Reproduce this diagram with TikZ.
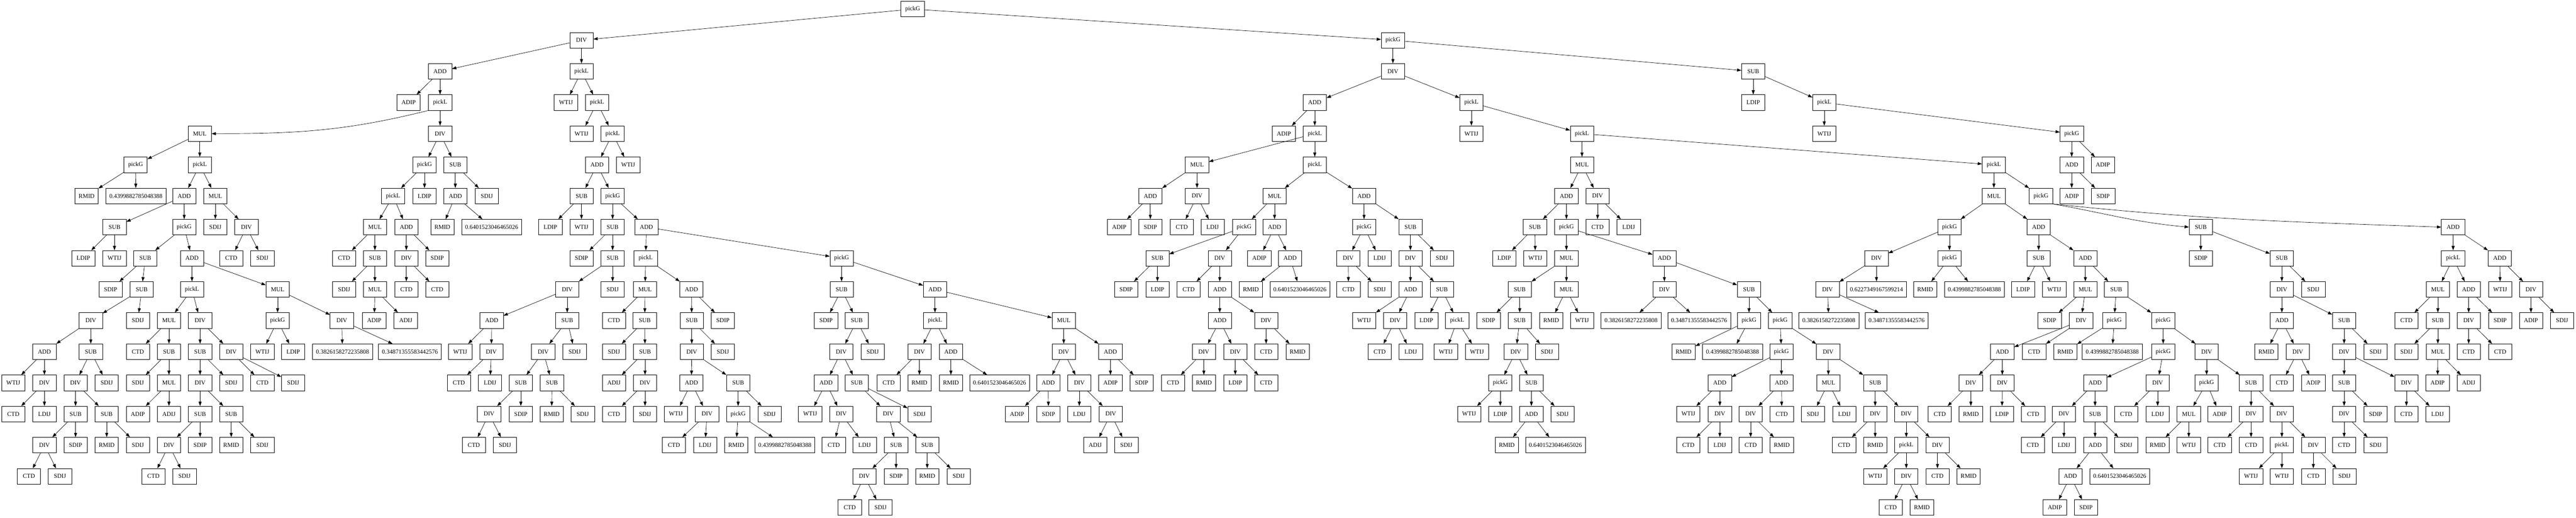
\documentclass[tikz,border=0pt]{standalone}
\usepackage{fontspec}
\setmainfont{Liberation Serif}
\usetikzlibrary{arrows.meta}

\tikzset{
  box/.style={draw, rectangle, minimum width=54pt, minimum height=36pt,
    inner xsep=8pt, inner ysep=3pt, line width=0.8pt,
    font=\fontsize{14}{16}\selectfont},
  link/.style={-{Triangle[length=10pt,width=7pt]}, line width=0.8pt}
}

\begin{document}
\begin{tikzpicture}[x=0.75pt, y={(0pt,-72pt)}]
\fill[white] (0,-0.29167) rectangle (7943,16.323);
\useasboundingbox (0,-0.29167) rectangle (7943,16.323);

% root
\node[box] (t0) at (2814,0) {pickG};

% left branch
\node[box] (a1) at (1793,1) {DIV}; \draw[link] (t0) -- (a1);
\node[box] (a2) at (1357,2) {ADD}; \draw[link] (a1) -- (a2);
\node[box] (a3) at (1260,3) {ADIP}; \draw[link] (a2) -- (a3);
\node[box] (a4) at (1357,3) {pickL}; \draw[link] (a2) -- (a4);
\node[box] (a5) at (616,4) {MUL}; \draw[link] (a4.south west) to[out=194,in=0] (a5.east);
\node[box] (a6) at (418,5) {pickG}; \draw[link] (a5) -- (a6);
\node[box] (a7) at (267,6) {RMID}; \draw[link] (a6) -- (a7);
\node[box] (a8) at (419,6) {0.4399882785048388}; \draw[link] (a6) -- (a8);
\node[box] (a9) at (616,5) {pickL}; \draw[link] (a5) -- (a9);
\node[box] (a10) at (568,6) {ADD}; \draw[link] (a9) -- (a10);
\node[box] (a11) at (353,7) {SUB}; \draw[link] (a10) -- (a11);
\node[box] (a12) at (257,8) {LDIP}; \draw[link] (a11) -- (a12);
\node[box] (a13) at (353,8) {WTIJ}; \draw[link] (a11) -- (a13);
\node[box] (a14) at (568,7) {pickG}; \draw[link] (a10) -- (a14);
\node[box] (a15) at (448,8) {SUB}; \draw[link] (a14) -- (a15);
\node[box] (a16) at (341,9) {SDIP}; \draw[link] (a15) -- (a16);
\node[box] (a17) at (437,9) {SUB}; \draw[link] (a15) -- (a17);
\node[box] (a18) at (280,10) {DIV}; \draw[link] (a17) -- (a18);
\node[box] (a19) at (137,11) {ADD}; \draw[link] (a18) -- (a19);
\node[box] (a20) at (41,12) {WTIJ}; \draw[link] (a19) -- (a20);
\node[box] (a21) at (137,12) {DIV}; \draw[link] (a19) -- (a21);
\node[box] (a22) at (41,13) {CTD}; \draw[link] (a21) -- (a22);
\node[box] (a23) at (137,13) {LDIJ}; \draw[link] (a21) -- (a23);
\node[box] (a24) at (280,11) {SUB}; \draw[link] (a18) -- (a24);
\node[box] (a25) at (233,12) {DIV}; \draw[link] (a24) -- (a25);
\node[box] (a26) at (233,13) {SUB}; \draw[link] (a25) -- (a26);
\node[box] (a27) at (137,14) {DIV}; \draw[link] (a26) -- (a27);
\node[box] (a28) at (89,15) {CTD}; \draw[link] (a27) -- (a28);
\node[box] (a29) at (185,15) {SDIJ}; \draw[link] (a27) -- (a29);
\node[box] (a30) at (233,14) {SDIP}; \draw[link] (a26) -- (a30);
\node[box] (a31) at (329,13) {SUB}; \draw[link] (a25) -- (a31);
\node[box] (a32) at (329,14) {RMID}; \draw[link] (a31) -- (a32);
\node[box] (a33) at (425,14) {SDIJ}; \draw[link] (a31) -- (a33);
\node[box] (a34) at (329,12) {SDIJ}; \draw[link] (a24) -- (a34);
\node[box] (a35) at (425,10) {SDIJ}; \draw[link] (a17) -- (a35);
\node[box] (a36) at (592,8) {ADD}; \draw[link] (a14) -- (a36);
\node[box] (a37) at (592,9) {pickL}; \draw[link] (a36) -- (a37);
\node[box] (a38) at (521,10) {MUL}; \draw[link] (a37) -- (a38);
\node[box] (a39) at (425,11) {CTD}; \draw[link] (a38) -- (a39);
\node[box] (a40) at (521,11) {SUB}; \draw[link] (a38) -- (a40);
\node[box] (a41) at (425,12) {SDIJ}; \draw[link] (a40) -- (a41);
\node[box] (a42) at (521,12) {MUL}; \draw[link] (a40) -- (a42);
\node[box] (a43) at (425,13) {ADIP}; \draw[link] (a42) -- (a43);
\node[box] (a44) at (521,13) {ADIJ}; \draw[link] (a42) -- (a44);
\node[box] (a45) at (617,10) {DIV}; \draw[link] (a37) -- (a45);
\node[box] (a46) at (617,11) {SUB}; \draw[link] (a45) -- (a46);
\node[box] (a47) at (617,12) {DIV}; \draw[link] (a46) -- (a47);
\node[box] (a48) at (617,13) {SUB}; \draw[link] (a47) -- (a48);
\node[box] (a49) at (521,14) {DIV}; \draw[link] (a48) -- (a49);
\node[box] (a50) at (473,15) {CTD}; \draw[link] (a49) -- (a50);
\node[box] (a51) at (569,15) {SDIJ}; \draw[link] (a49) -- (a51);
\node[box] (a52) at (617,14) {SDIP}; \draw[link] (a48) -- (a52);
\node[box] (a53) at (713,13) {SUB}; \draw[link] (a47) -- (a53);
\node[box] (a54) at (713,14) {RMID}; \draw[link] (a53) -- (a54);
\node[box] (a55) at (809,14) {SDIJ}; \draw[link] (a53) -- (a55);
\node[box] (a56) at (713,12) {SDIJ}; \draw[link] (a46) -- (a56);
\node[box] (a57) at (713,11) {DIV}; \draw[link] (a45) -- (a57);
\node[box] (a58) at (809,12) {CTD}; \draw[link] (a57) -- (a58);
\node[box] (a59) at (904,12) {SDIJ}; \draw[link] (a57) -- (a59);
\node[box] (a60) at (856,9) {MUL}; \draw[link] (a36) -- (a60);
\node[box] (a61) at (856,10) {pickG}; \draw[link] (a60) -- (a61);
\node[box] (a62) at (809,11) {WTIJ}; \draw[link] (a61) -- (a62);
\node[box] (a63) at (904,11) {LDIP}; \draw[link] (a61) -- (a63);
\node[box] (a64) at (1054,10) {DIV}; \draw[link] (a60) -- (a64);
\node[box] (a65) at (1056,11) {0.3826158272235808}; \draw[link] (a64) -- (a65);
\node[box] (a66) at (1264,11) {0.34871355583442576}; \draw[link] (a64) -- (a66);
\node[box] (a67) at (664,6) {MUL}; \draw[link] (a9) -- (a67);
\node[box] (a68) at (664,7) {SDIJ}; \draw[link] (a67) -- (a68);
\node[box] (a69) at (760,7) {DIV}; \draw[link] (a67) -- (a69);
\node[box] (a70) at (713,8) {CTD}; \draw[link] (a69) -- (a70);
\node[box] (a71) at (809,8) {SDIJ}; \draw[link] (a69) -- (a71);
\node[box] (a72) at (1357,4) {DIV}; \draw[link] (a4) -- (a72);
\node[box] (a73) at (1309,5) {pickG}; \draw[link] (a72) -- (a73);
\node[box] (a74) at (1212,6) {pickL}; \draw[link] (a73) -- (a74);
\node[box] (a75) at (1156,7) {MUL}; \draw[link] (a74) -- (a75);
\node[box] (a76) at (1061,8) {CTD}; \draw[link] (a75) -- (a76);
\node[box] (a77) at (1156,8) {SUB}; \draw[link] (a75) -- (a77);
\node[box] (a78) at (1061,9) {SDIJ}; \draw[link] (a77) -- (a78);
\node[box] (a79) at (1156,9) {MUL}; \draw[link] (a77) -- (a79);
\node[box] (a80) at (1154,10) {ADIP}; \draw[link] (a79) -- (a80);
\node[box] (a81) at (1251,10) {ADIJ}; \draw[link] (a79) -- (a81);
\node[box] (a82) at (1253,7) {ADD}; \draw[link] (a74) -- (a82);
\node[box] (a83) at (1253,8) {DIV}; \draw[link] (a82) -- (a83);
\node[box] (a84) at (1253,9) {CTD}; \draw[link] (a83) -- (a84);
\node[box] (a85) at (1348,9) {CTD}; \draw[link] (a83) -- (a85);
\node[box] (a86) at (1348,8) {SDIP}; \draw[link] (a82) -- (a86);
\node[box] (a87) at (1309,6) {LDIP}; \draw[link] (a73) -- (a87);
\node[box] (a88) at (1404,5) {SUB}; \draw[link] (a72) -- (a88);
\node[box] (a89) at (1404,6) {ADD}; \draw[link] (a88) -- (a89);
\node[box] (a90) at (1364,7) {RMID}; \draw[link] (a89) -- (a90);
\node[box] (a91) at (1516,7) {0.6401523046465026}; \draw[link] (a89) -- (a91);
\node[box] (a92) at (1501,6) {SDIJ}; \draw[link] (a88) -- (a92);
\node[box] (a93) at (1793,2) {pickL}; \draw[link] (a1) -- (a93);
\node[box] (a94) at (1745,3) {WTIJ}; \draw[link] (a93) -- (a94);
\node[box] (a95) at (1841,3) {pickL}; \draw[link] (a93) -- (a95);
\node[box] (a96) at (1793,4) {WTIJ}; \draw[link] (a95) -- (a96);
\node[box] (a97) at (1889,4) {pickL}; \draw[link] (a95) -- (a97);
\node[box] (a98) at (1841,5) {ADD}; \draw[link] (a97) -- (a98);
\node[box] (a193) at (1937,5) {WTIJ}; \draw[link] (a97) -- (a193);
\node[box] (a99) at (1793,6) {SUB}; \draw[link] (a98) -- (a99);
\node[box] (a100) at (1697,7) {LDIP}; \draw[link] (a99) -- (a100);
\node[box] (a101) at (1793,7) {WTIJ}; \draw[link] (a99) -- (a101);
\node[box] (a102) at (1889,6) {pickG}; \draw[link] (a98) -- (a102);
\node[box] (a103) at (1889,7) {SUB}; \draw[link] (a102) -- (a103);
\node[box] (a104) at (1793,8) {SDIP}; \draw[link] (a103) -- (a104);
\node[box] (a105) at (1889,8) {SUB}; \draw[link] (a103) -- (a105);
\node[box] (a106) at (1749,9) {DIV}; \draw[link] (a105) -- (a106);
\node[box] (a107) at (1516,10) {ADD}; \draw[link] (a106) -- (a107);
\node[box] (a108) at (1419,11) {WTIJ}; \draw[link] (a107) -- (a108);
\node[box] (a109) at (1515,11) {DIV}; \draw[link] (a107) -- (a109);
\node[box] (a110) at (1415,12) {CTD}; \draw[link] (a109) -- (a110);
\node[box] (a111) at (1511,12) {LDIJ}; \draw[link] (a109) -- (a111);
\node[box] (a112) at (1749,10) {SUB}; \draw[link] (a106) -- (a112);
\node[box] (a113) at (1675,11) {DIV}; \draw[link] (a112) -- (a113);
\node[box] (a114) at (1606,12) {SUB}; \draw[link] (a113) -- (a114);
\node[box] (a115) at (1508,13) {DIV}; \draw[link] (a114) -- (a115);
\node[box] (a116) at (1461,14) {CTD}; \draw[link] (a115) -- (a116);
\node[box] (a117) at (1557,14) {SDIJ}; \draw[link] (a115) -- (a117);
\node[box] (a118) at (1606,13) {SDIP}; \draw[link] (a114) -- (a118);
\node[box] (a119) at (1702,12) {SUB}; \draw[link] (a113) -- (a119);
\node[box] (a120) at (1701,13) {RMID}; \draw[link] (a119) -- (a120);
\node[box] (a121) at (1797,13) {SDIJ}; \draw[link] (a119) -- (a121);
\node[box] (a122) at (1772,11) {SDIJ}; \draw[link] (a112) -- (a122);
\node[box] (a123) at (1889,9) {SDIJ}; \draw[link] (a105) -- (a123);
\node[box] (a124) at (1993,7) {ADD}; \draw[link] (a102) -- (a124);
\node[box] (a125) at (1991,8) {pickL}; \draw[link] (a124) -- (a125);
\node[box] (a126) at (1989,9) {MUL}; \draw[link] (a125) -- (a126);
\node[box] (a127) at (1893,10) {CTD}; \draw[link] (a126) -- (a127);
\node[box] (a128) at (1988,10) {SUB}; \draw[link] (a126) -- (a128);
\node[box] (a129) at (1893,11) {SDIJ}; \draw[link] (a128) -- (a129);
\node[box] (a130) at (1989,11) {SUB}; \draw[link] (a128) -- (a130);
\node[box] (a131) at (1893,12) {ADIJ}; \draw[link] (a130) -- (a131);
\node[box] (a132) at (1989,12) {DIV}; \draw[link] (a130) -- (a132);
\node[box] (a133) at (1893,13) {CTD}; \draw[link] (a132) -- (a133);
\node[box] (a134) at (1989,13) {SDIJ}; \draw[link] (a132) -- (a134);
\node[box] (a135) at (2132,9) {ADD}; \draw[link] (a125) -- (a135);
\node[box] (a136) at (2133,10) {SUB}; \draw[link] (a135) -- (a136);
\node[box] (a137) at (2133,11) {DIV}; \draw[link] (a136) -- (a137);
\node[box] (a138) at (2132,12) {ADD}; \draw[link] (a137) -- (a138);
\node[box] (a139) at (2084,13) {WTIJ}; \draw[link] (a138) -- (a139);
\node[box] (a140) at (2180,13) {DIV}; \draw[link] (a138) -- (a140);
\node[box] (a141) at (2078,14) {CTD}; \draw[link] (a140) -- (a141);
\node[box] (a142) at (2174,14) {LDIJ}; \draw[link] (a140) -- (a142);
\node[box] (a143) at (2276,12) {SUB}; \draw[link] (a137) -- (a143);
\node[box] (a144) at (2276,13) {pickG}; \draw[link] (a143) -- (a144);
\node[box] (a145) at (2270,14) {RMID}; \draw[link] (a144) -- (a145);
\node[box] (a146) at (2420,14) {0.4399882785048388}; \draw[link] (a144) -- (a146);
\node[box] (a147) at (2373,13) {SDIJ}; \draw[link] (a143) -- (a147);
\node[box] (a148) at (2229,11) {SDIJ}; \draw[link] (a136) -- (a148);
\node[box] (a149) at (2229,10) {SDIP}; \draw[link] (a135) -- (a149);
\node[box] (a150) at (2595,8) {pickG}; \draw[link] (a124) -- (a150);
\node[box] (a151) at (2595,9) {SUB}; \draw[link] (a150) -- (a151);
\node[box] (a152) at (2547,10) {SDIP}; \draw[link] (a151) -- (a152);
\node[box] (a153) at (2642,10) {SUB}; \draw[link] (a151) -- (a153);
\node[box] (a154) at (2594,11) {DIV}; \draw[link] (a153) -- (a154);
\node[box] (a155) at (2547,12) {ADD}; \draw[link] (a154) -- (a155);
\node[box] (a156) at (2498,13) {WTIJ}; \draw[link] (a155) -- (a156);
\node[box] (a157) at (2594,13) {DIV}; \draw[link] (a155) -- (a157);
\node[box] (a158) at (2571,14) {CTD}; \draw[link] (a157) -- (a158);
\node[box] (a159) at (2666,14) {LDIJ}; \draw[link] (a157) -- (a159);
\node[box] (a160) at (2642,12) {SUB}; \draw[link] (a154) -- (a160);
\node[box] (a161) at (2739,13) {DIV}; \draw[link] (a160) -- (a161);
\node[box] (a162) at (2763,14) {SUB}; \draw[link] (a161) -- (a162);
\node[box] (a163) at (2665,15) {DIV}; \draw[link] (a162) -- (a163);
\node[box] (a164) at (2620,16) {CTD}; \draw[link] (a163) -- (a164);
\node[box] (a165) at (2715,16) {SDIJ}; \draw[link] (a163) -- (a165);
\node[box] (a166) at (2763,15) {SDIP}; \draw[link] (a162) -- (a166);
\node[box] (a167) at (2859,14) {SUB}; \draw[link] (a161) -- (a167);
\node[box] (a168) at (2859,15) {RMID}; \draw[link] (a167) -- (a168);
\node[box] (a169) at (2956,15) {SDIJ}; \draw[link] (a167) -- (a169);
\node[box] (a170) at (2835,13) {SDIJ}; \draw[link] (a160) -- (a170);
\node[box] (a171) at (2691,11) {SDIJ}; \draw[link] (a153) -- (a171);
\node[box] (a172) at (2883,9) {ADD}; \draw[link] (a150) -- (a172);
\node[box] (a173) at (2883,10) {pickL}; \draw[link] (a172) -- (a173);
\node[box] (a174) at (2835,11) {DIV}; \draw[link] (a173) -- (a174);
\node[box] (a175) at (2740,12) {CTD}; \draw[link] (a174) -- (a175);
\node[box] (a176) at (2835,12) {RMID}; \draw[link] (a174) -- (a176);
\node[box] (a177) at (2932,11) {ADD}; \draw[link] (a173) -- (a177);
\node[box] (a178) at (2932,12) {RMID}; \draw[link] (a177) -- (a178);
\node[box] (a179) at (3082,12) {0.6401523046465026}; \draw[link] (a177) -- (a179);
\node[box] (a180) at (3280,10) {MUL}; \draw[link] (a172) -- (a180);
\node[box] (a181) at (3280,11) {DIV}; \draw[link] (a180) -- (a181);
\node[box] (a182) at (3232,12) {ADD}; \draw[link] (a181) -- (a182);
\node[box] (a183) at (3136,13) {ADIP}; \draw[link] (a182) -- (a183);
\node[box] (a184) at (3233,13) {SDIP}; \draw[link] (a182) -- (a184);
\node[box] (a185) at (3328,12) {DIV}; \draw[link] (a181) -- (a185);
\node[box] (a186) at (3328,13) {LDIJ}; \draw[link] (a185) -- (a186);
\node[box] (a187) at (3425,13) {DIV}; \draw[link] (a185) -- (a187);
\node[box] (a188) at (3377,14) {ADIJ}; \draw[link] (a187) -- (a188);
\node[box] (a189) at (3473,14) {SDIJ}; \draw[link] (a187) -- (a189);
\node[box] (a190) at (3424,11) {ADD}; \draw[link] (a180) -- (a190);
\node[box] (a191) at (3424,12) {ADIP}; \draw[link] (a190) -- (a191);
\node[box] (a192) at (3520,12) {SDIP}; \draw[link] (a190) -- (a192);

% right branch
\node[box] (b1) at (4295,1) {pickG}; \draw[link] (t0) -- (b1);
\node[box] (b2) at (4295,2) {DIV}; \draw[link] (b1) -- (b2);
\node[box] (b3) at (4054,3) {ADD}; \draw[link] (b2) -- (b3);
\node[box] (b4) at (3959,4) {ADIP}; \draw[link] (b3) -- (b4);
\node[box] (b5) at (4054,4) {pickL}; \draw[link] (b3) -- (b5);
\node[box] (b6) at (3691,5) {MUL}; \draw[link] (b5) -- (b6);
\node[box] (b7) at (3547,6) {ADD}; \draw[link] (b6) -- (b7);
\node[box] (b8) at (3451,7) {ADIP}; \draw[link] (b7) -- (b8);
\node[box] (b9) at (3547,7) {SDIP}; \draw[link] (b7) -- (b9);
\node[box] (b10) at (3691,6) {DIV}; \draw[link] (b6) -- (b10);
\node[box] (b11) at (3644,7) {CTD}; \draw[link] (b10) -- (b11);
\node[box] (b12) at (3739,7) {LDIJ}; \draw[link] (b10) -- (b12);
\node[box] (b13) at (4054,5) {pickL}; \draw[link] (b5) -- (b13);
\node[box] (b14) at (3930,6) {MUL}; \draw[link] (b13) -- (b14);
\node[box] (b15) at (3836,7) {pickG}; \draw[link] (b14) -- (b15);
\node[box] (b16) at (3569,8) {SUB}; \draw[link] (b15) -- (b16);
\node[box] (b17) at (3472,9) {SDIP}; \draw[link] (b16) -- (b17);
\node[box] (b18) at (3569,9) {LDIP}; \draw[link] (b16) -- (b18);
\node[box] (b19) at (3761,8) {DIV}; \draw[link] (b15) -- (b19);
\node[box] (b20) at (3665,9) {CTD}; \draw[link] (b19) -- (b20);
\node[box] (b21) at (3761,9) {ADD}; \draw[link] (b19) -- (b21);
\node[box] (b22) at (3761,10) {ADD}; \draw[link] (b21) -- (b22);
\node[box] (b23) at (3712,11) {DIV}; \draw[link] (b22) -- (b23);
\node[box] (b24) at (3617,12) {CTD}; \draw[link] (b23) -- (b24);
\node[box] (b25) at (3712,12) {RMID}; \draw[link] (b23) -- (b25);
\node[box] (b26) at (3809,11) {DIV}; \draw[link] (b22) -- (b26);
\node[box] (b27) at (3809,12) {LDIP}; \draw[link] (b26) -- (b27);
\node[box] (b28) at (3904,12) {CTD}; \draw[link] (b26) -- (b28);
\node[box] (b29) at (3904,10) {DIV}; \draw[link] (b21) -- (b29);
\node[box] (b30) at (3904,11) {CTD}; \draw[link] (b29) -- (b30);
\node[box] (b31) at (4001,11) {RMID}; \draw[link] (b29) -- (b31);
\node[box] (b32) at (3930,7) {ADD}; \draw[link] (b14) -- (b32);
\node[box] (b33) at (3883,8) {ADIP}; \draw[link] (b32) -- (b33);
\node[box] (b34) at (3978,8) {ADD}; \draw[link] (b32) -- (b34);
\node[box] (b35) at (3857,9) {RMID}; \draw[link] (b34) -- (b35);
\node[box] (b36) at (4008,9) {0.6401523046465026}; \draw[link] (b34) -- (b36);
\node[box] (b37) at (4206,6) {ADD}; \draw[link] (b13) -- (b37);
\node[box] (b38) at (4206,7) {pickG}; \draw[link] (b37) -- (b38);
\node[box] (b39) at (4157,8) {DIV}; \draw[link] (b38) -- (b39);
\node[box] (b40) at (4158,9) {CTD}; \draw[link] (b39) -- (b40);
\node[box] (b41) at (4254,9) {SDIJ}; \draw[link] (b39) -- (b41);
\node[box] (b42) at (4254,8) {LDIJ}; \draw[link] (b38) -- (b42);
\node[box] (b43) at (4349,7) {SUB}; \draw[link] (b37) -- (b43);
\node[box] (b44) at (4349,8) {DIV}; \draw[link] (b43) -- (b44);
\node[box] (b45) at (4349,9) {ADD}; \draw[link] (b44) -- (b45);
\node[box] (b46) at (4206,10) {WTIJ}; \draw[link] (b45) -- (b46);
\node[box] (b47) at (4302,10) {DIV}; \draw[link] (b45) -- (b47);
\node[box] (b48) at (4254,11) {CTD}; \draw[link] (b47) -- (b48);
\node[box] (b49) at (4350,11) {LDIJ}; \draw[link] (b47) -- (b49);
\node[box] (b50) at (4446,9) {SUB}; \draw[link] (b44) -- (b50);
\node[box] (b51) at (4398,10) {LDIP}; \draw[link] (b50) -- (b51);
\node[box] (b52) at (4493,10) {pickL}; \draw[link] (b50) -- (b52);
\node[box] (b53) at (4458,11) {WTIJ}; \draw[link] (b52) -- (b53);
\node[box] (b54) at (4554,11) {WTIJ}; \draw[link] (b52) -- (b54);
\node[box] (b55) at (4446,8) {SDIJ}; \draw[link] (b43) -- (b55);
\node[box] (b56) at (4537,3) {pickL}; \draw[link] (b2) -- (b56);
\node[box] (b57) at (4537,4) {WTIJ}; \draw[link] (b56) -- (b57);
\node[box] (b58) at (4878,4) {pickL}; \draw[link] (b56) -- (b58);
\node[box] (b59) at (4878,5) {MUL}; \draw[link] (b58) -- (b59);
\node[box] (b60) at (4830,6) {ADD}; \draw[link] (b59) -- (b60);
\node[box] (b61) at (4733,7) {SUB}; \draw[link] (b60) -- (b61);
\node[box] (b62) at (4638,8) {LDIP}; \draw[link] (b61) -- (b62);
\node[box] (b63) at (4734,8) {WTIJ}; \draw[link] (b61) -- (b63);
\node[box] (b64) at (4830,7) {pickG}; \draw[link] (b60) -- (b64);
\node[box] (b65) at (4830,8) {MUL}; \draw[link] (b64) -- (b65);
\node[box] (b66) at (4686,9) {SUB}; \draw[link] (b65) -- (b66);
\node[box] (b67) at (4590,10) {SDIP}; \draw[link] (b66) -- (b67);
\node[box] (b68) at (4686,10) {SUB}; \draw[link] (b66) -- (b68);
\node[box] (b69) at (4674,11) {DIV}; \draw[link] (b68) -- (b69);
\node[box] (b70) at (4626,12) {pickG}; \draw[link] (b69) -- (b70);
\node[box] (b71) at (4530,13) {WTIJ}; \draw[link] (b70) -- (b71);
\node[box] (b72) at (4626,13) {LDIP}; \draw[link] (b70) -- (b72);
\node[box] (b73) at (4722,12) {SUB}; \draw[link] (b69) -- (b73);
\node[box] (b74) at (4722,13) {ADD}; \draw[link] (b73) -- (b74);
\node[box] (b75) at (4646,14) {RMID}; \draw[link] (b74) -- (b75);
\node[box] (b76) at (4796,14) {0.6401523046465026}; \draw[link] (b74) -- (b76);
\node[box] (b77) at (4818,13) {SDIJ}; \draw[link] (b73) -- (b77);
\node[box] (b78) at (4770,11) {SDIJ}; \draw[link] (b68) -- (b78);
\node[box] (b79) at (4830,9) {MUL}; \draw[link] (b65) -- (b79);
\node[box] (b80) at (4783,10) {RMID}; \draw[link] (b79) -- (b80);
\node[box] (b81) at (4878,10) {WTIJ}; \draw[link] (b79) -- (b81);
\node[box] (b82) at (5132,8) {ADD}; \draw[link] (b64) -- (b82);
\node[box] (b83) at (5132,9) {DIV}; \draw[link] (b82) -- (b83);
\node[box] (b84) at (5029,10) {0.3826158272235808}; \draw[link] (b83) -- (b84);
\node[box] (b85) at (5239,10) {0.34871355583442576}; \draw[link] (b83) -- (b85);
\node[box] (b86) at (5393,9) {SUB}; \draw[link] (b82) -- (b86);
\node[box] (b87) at (5393,10) {pickG}; \draw[link] (b86) -- (b87);
\node[box] (b88) at (5191,11) {RMID}; \draw[link] (b87) -- (b88);
\node[box] (b89) at (5342,11) {0.4399882785048388}; \draw[link] (b87) -- (b89);
\node[box] (b90) at (5489,10) {pickG}; \draw[link] (b86) -- (b90);
\node[box] (b91) at (5493,11) {pickG}; \draw[link] (b90) -- (b91);
\node[box] (b92) at (5303,12) {ADD}; \draw[link] (b91) -- (b92);
\node[box] (b93) at (5206,13) {WTIJ}; \draw[link] (b92) -- (b93);
\node[box] (b94) at (5303,13) {DIV}; \draw[link] (b92) -- (b94);
\node[box] (b95) at (5206,14) {CTD}; \draw[link] (b94) -- (b95);
\node[box] (b96) at (5303,14) {LDIJ}; \draw[link] (b94) -- (b96);
\node[box] (b97) at (5493,12) {ADD}; \draw[link] (b91) -- (b97);
\node[box] (b98) at (5398,13) {DIV}; \draw[link] (b97) -- (b98);
\node[box] (b99) at (5398,14) {CTD}; \draw[link] (b98) -- (b99);
\node[box] (b100) at (5494,14) {RMID}; \draw[link] (b98) -- (b100);
\node[box] (b101) at (5494,13) {CTD}; \draw[link] (b97) -- (b101);
\node[box] (b102) at (5637,11) {DIV}; \draw[link] (b90) -- (b102);
\node[box] (b103) at (5638,12) {MUL}; \draw[link] (b102) -- (b103);
\node[box] (b104) at (5590,13) {SDIJ}; \draw[link] (b103) -- (b104);
\node[box] (b105) at (5687,13) {LDIJ}; \draw[link] (b103) -- (b105);
\node[box] (b106) at (5782,12) {SUB}; \draw[link] (b102) -- (b106);
\node[box] (b107) at (5782,13) {DIV}; \draw[link] (b106) -- (b107);
\node[box] (b108) at (5686,14) {CTD}; \draw[link] (b107) -- (b108);
\node[box] (b109) at (5782,14) {RMID}; \draw[link] (b107) -- (b109);
\node[box] (b110) at (5878,13) {DIV}; \draw[link] (b106) -- (b110);
\node[box] (b111) at (5878,14) {pickL}; \draw[link] (b110) -- (b111);
\node[box] (b112) at (5782,15) {WTIJ}; \draw[link] (b111) -- (b112);
\node[box] (b113) at (5878,15) {DIV}; \draw[link] (b111) -- (b113);
\node[box] (b114) at (5830,16) {CTD}; \draw[link] (b113) -- (b114);
\node[box] (b115) at (5926,16) {RMID}; \draw[link] (b113) -- (b115);
\node[box] (b116) at (5974,14) {DIV}; \draw[link] (b110) -- (b116);
\node[box] (b117) at (5974,15) {CTD}; \draw[link] (b116) -- (b117);
\node[box] (b118) at (6070,15) {RMID}; \draw[link] (b116) -- (b118);
\node[box] (b119) at (4926,6) {DIV}; \draw[link] (b59) -- (b119);
\node[box] (b120) at (4926,7) {CTD}; \draw[link] (b119) -- (b120);
\node[box] (b121) at (5022,7) {LDIJ}; \draw[link] (b119) -- (b121);
\node[box] (b122) at (6148,5) {pickL}; \draw[link] (b58) -- (b122);
\node[box] (b123) at (6148,6) {MUL}; \draw[link] (b122) -- (b123);
\node[box] (b124) at (6011,7) {pickG}; \draw[link] (b123) -- (b124);
\node[box] (b125) at (5786,8) {DIV}; \draw[link] (b124) -- (b125);
\node[box] (b126) at (5635,9) {DIV}; \draw[link] (b125) -- (b126);
\node[box] (b127) at (5639,10) {0.3826158272235808}; \draw[link] (b126) -- (b127);
\node[box] (b128) at (5848,10) {0.34871355583442576}; \draw[link] (b126) -- (b128);
\node[box] (b129) at (5786,9) {0.6227349167599214}; \draw[link] (b125) -- (b129);
\node[box] (b130) at (6011,8) {pickG}; \draw[link] (b124) -- (b130);
\node[box] (b131) at (5936,9) {RMID}; \draw[link] (b130) -- (b131);
\node[box] (b132) at (6088,9) {0.4399882785048388}; \draw[link] (b130) -- (b132);
\node[box] (b133) at (6286,7) {ADD}; \draw[link] (b123) -- (b133);
\node[box] (b134) at (6286,8) {SUB}; \draw[link] (b133) -- (b134);
\node[box] (b135) at (6238,9) {LDIP}; \draw[link] (b134) -- (b135);
\node[box] (b136) at (6334,9) {WTIJ}; \draw[link] (b134) -- (b136);
\node[box] (b137) at (6430,8) {ADD}; \draw[link] (b133) -- (b137);
\node[box] (b138) at (6430,9) {MUL}; \draw[link] (b137) -- (b138);
\node[box] (b139) at (6320,10) {SDIP}; \draw[link] (b138) -- (b139);
\node[box] (b140) at (6417,10) {DIV}; \draw[link] (b138) -- (b140);
\node[box] (b141) at (6174,11) {ADD}; \draw[link] (b140) -- (b141);
\node[box] (b142) at (6077,12) {DIV}; \draw[link] (b141) -- (b142);
\node[box] (b143) at (5981,13) {CTD}; \draw[link] (b142) -- (b143);
\node[box] (b144) at (6077,13) {RMID}; \draw[link] (b142) -- (b144);
\node[box] (b145) at (6174,12) {DIV}; \draw[link] (b141) -- (b145);
\node[box] (b146) at (6173,13) {LDIP}; \draw[link] (b145) -- (b146);
\node[box] (b147) at (6269,13) {CTD}; \draw[link] (b145) -- (b147);
\node[box] (b148) at (6272,11) {CTD}; \draw[link] (b140) -- (b148);
\node[box] (b149) at (6525,9) {SUB}; \draw[link] (b137) -- (b149);
\node[box] (b150) at (6519,10) {pickG}; \draw[link] (b149) -- (b150);
\node[box] (b151) at (6368,11) {RMID}; \draw[link] (b150) -- (b151);
\node[box] (b152) at (6513,11) {0.4399882785048388}; \draw[link] (b150) -- (b152);
\node[box] (b153) at (6670,10) {pickG}; \draw[link] (b149) -- (b153);
\node[box] (b154) at (6670,11) {pickG}; \draw[link] (b153) -- (b154);
\node[box] (b155) at (6460,12) {ADD}; \draw[link] (b154) -- (b155);
\node[box] (b156) at (6364,13) {DIV}; \draw[link] (b155) -- (b156);
\node[box] (b157) at (6268,14) {CTD}; \draw[link] (b156) -- (b157);
\node[box] (b158) at (6364,14) {LDIJ}; \draw[link] (b156) -- (b158);
\node[box] (b159) at (6460,13) {SUB}; \draw[link] (b155) -- (b159);
\node[box] (b160) at (6460,14) {ADD}; \draw[link] (b159) -- (b160);
\node[box] (b161) at (6384,15) {ADD}; \draw[link] (b160) -- (b161);
\node[box] (b162) at (6336,16) {ADIP}; \draw[link] (b161) -- (b162);
\node[box] (b163) at (6432,16) {SDIP}; \draw[link] (b161) -- (b163);
\node[box] (b164) at (6536,15) {0.6401523046465026}; \draw[link] (b160) -- (b164);
\node[box] (b165) at (6556,14) {SDIJ}; \draw[link] (b159) -- (b165);
\node[box] (b166) at (6653,12) {DIV}; \draw[link] (b154) -- (b166);
\node[box] (b167) at (6556,13) {CTD}; \draw[link] (b166) -- (b167);
\node[box] (b168) at (6653,13) {LDIJ}; \draw[link] (b166) -- (b168);
\node[box] (b169) at (6804,11) {DIV}; \draw[link] (b153) -- (b169);
\node[box] (b170) at (6804,12) {pickG}; \draw[link] (b169) -- (b170);
\node[box] (b171) at (6749,13) {MUL}; \draw[link] (b170) -- (b171);
\node[box] (b172) at (6653,14) {RMID}; \draw[link] (b171) -- (b172);
\node[box] (b173) at (6749,14) {WTIJ}; \draw[link] (b171) -- (b173);
\node[box] (b174) at (6844,13) {ADIP}; \draw[link] (b170) -- (b174);
\node[box] (b175) at (6941,12) {SUB}; \draw[link] (b169) -- (b175);
\node[box] (b176) at (6941,13) {DIV}; \draw[link] (b175) -- (b176);
\node[box] (b177) at (6844,14) {CTD}; \draw[link] (b176) -- (b177);
\node[box] (b178) at (6941,14) {CTD}; \draw[link] (b176) -- (b178);
\node[box] (b179) at (7036,13) {DIV}; \draw[link] (b175) -- (b179);
\node[box] (b180) at (7036,14) {pickL}; \draw[link] (b179) -- (b180);
\node[box] (b181) at (6941,15) {WTIJ}; \draw[link] (b180) -- (b181);
\node[box] (b182) at (7036,15) {WTIJ}; \draw[link] (b180) -- (b182);
\node[box] (b183) at (7133,14) {DIV}; \draw[link] (b179) -- (b183);
\node[box] (b184) at (7133,15) {CTD}; \draw[link] (b183) -- (b184);
\node[box] (b185) at (7229,15) {SDIJ}; \draw[link] (b183) -- (b185);
\node[box] (b186) at (6293,6) {pickG}; \draw[link] (b122) -- (b186);
\node[box] (b187) at (6786,7) {SUB}; \draw[link] (b186.south east) to[out=-10,in=175] (b187.west);
\node[box] (b188) at (6786,8) {SDIP}; \draw[link] (b187) -- (b188);
\node[box] (b189) at (7036,8) {SUB}; \draw[link] (b187) -- (b189);
\node[box] (b190) at (7036,9) {DIV}; \draw[link] (b189) -- (b190);
\node[box] (b191) at (7036,10) {ADD}; \draw[link] (b190) -- (b191);
\node[box] (b192) at (6988,11) {RMID}; \draw[link] (b191) -- (b192);
\node[box] (b193) at (7085,11) {DIV}; \draw[link] (b191) -- (b193);
\node[box] (b194) at (7036,12) {CTD}; \draw[link] (b193) -- (b194);
\node[box] (b195) at (7133,12) {ADIP}; \draw[link] (b193) -- (b195);
\node[box] (b196) at (7228,10) {SUB}; \draw[link] (b190) -- (b196);
\node[box] (b197) at (7228,11) {DIV}; \draw[link] (b196) -- (b197);
\node[box] (b198) at (7228,12) {SUB}; \draw[link] (b197) -- (b198);
\node[box] (b199) at (7228,13) {DIV}; \draw[link] (b198) -- (b199);
\node[box] (b200) at (7228,14) {CTD}; \draw[link] (b199) -- (b200);
\node[box] (b201) at (7325,14) {SDIJ}; \draw[link] (b199) -- (b201);
\node[box] (b202) at (7325,13) {SDIP}; \draw[link] (b198) -- (b202);
\node[box] (b203) at (7420,12) {DIV}; \draw[link] (b197) -- (b203);
\node[box] (b204) at (7420,13) {CTD}; \draw[link] (b203) -- (b204);
\node[box] (b205) at (7516,13) {LDIJ}; \draw[link] (b203) -- (b205);
\node[box] (b206) at (7325,11) {SDIJ}; \draw[link] (b196) -- (b206);
\node[box] (b207) at (7133,9) {SDIJ}; \draw[link] (b189) -- (b207);
\node[box] (b208) at (7564,7) {ADD}; \draw[link] (b186.south east) to[out=-6,in=178] (b208.west);
\node[box] (b209) at (7564,8) {pickL}; \draw[link] (b208) -- (b209);
\node[box] (b210) at (7517,9) {MUL}; \draw[link] (b209) -- (b210);
\node[box] (b211) at (7420,10) {CTD}; \draw[link] (b210) -- (b211);
\node[box] (b212) at (7517,10) {SUB}; \draw[link] (b210) -- (b212);
\node[box] (b213) at (7420,11) {SDIJ}; \draw[link] (b212) -- (b213);
\node[box] (b214) at (7517,11) {MUL}; \draw[link] (b212) -- (b214);
\node[box] (b215) at (7516,12) {ADIP}; \draw[link] (b214) -- (b215);
\node[box] (b216) at (7612,12) {ADIJ}; \draw[link] (b214) -- (b216);
\node[box] (b217) at (7612,9) {ADD}; \draw[link] (b209) -- (b217);
\node[box] (b218) at (7612,10) {DIV}; \draw[link] (b217) -- (b218);
\node[box] (b219) at (7612,11) {CTD}; \draw[link] (b218) -- (b219);
\node[box] (b220) at (7709,11) {CTD}; \draw[link] (b218) -- (b220);
\node[box] (b221) at (7709,10) {SDIP}; \draw[link] (b217) -- (b221);
\node[box] (b222) at (7708,8) {ADD}; \draw[link] (b208) -- (b222);
\node[box] (b223) at (7709,9) {WTIJ}; \draw[link] (b222) -- (b223);
\node[box] (b224) at (7804,9) {DIV}; \draw[link] (b222) -- (b224);
\node[box] (b225) at (7804,10) {ADIP}; \draw[link] (b224) -- (b225);
\node[box] (b226) at (7900,10) {SDIJ}; \draw[link] (b224) -- (b226);
\node[box] (b227) at (5406,2) {SUB}; \draw[link] (b1) -- (b227);
\node[box] (b228) at (5406,3) {LDIP}; \draw[link] (b227) -- (b228);
\node[box] (b229) at (5625,3) {pickL}; \draw[link] (b227) -- (b229);
\node[box] (b230) at (5625,4) {WTIJ}; \draw[link] (b229) -- (b230);
\node[box] (b231) at (6388,4) {pickG}; \draw[link] (b229) -- (b231);
\node[box] (b232) at (6388,5) {ADD}; \draw[link] (b231) -- (b232);
\node[box] (b233) at (6388,6) {ADIP}; \draw[link] (b232) -- (b233);
\node[box] (b234) at (6485,6) {SDIP}; \draw[link] (b232) -- (b234);
\node[box] (b235) at (6484,5) {ADIP}; \draw[link] (b231) -- (b235);

\end{tikzpicture}
\end{document}
